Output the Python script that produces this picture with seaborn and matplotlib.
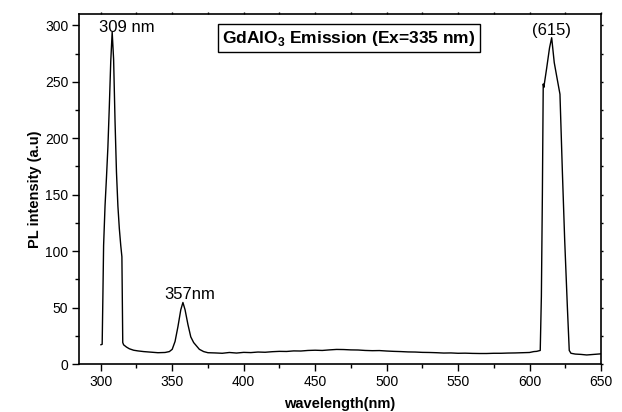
import matplotlib
matplotlib.use("Agg")
import matplotlib.pyplot as plt
import seaborn as sns
import pandas as pd
from matplotlib.ticker import MultipleLocator

# Emission spectrum
wavelength = [300, 301, 301.5, 302, 303, 304, 305, 306, 307, 308, 309, 310, 311,
              312, 313, 314, 314.8, 315.4, 316, 318, 320, 323, 326, 330, 335, 340,
              345, 348, 350, 352, 354, 356, 357.5, 359, 361, 363, 365, 367, 369,
              372, 375, 380, 385, 390, 395, 400, 405, 410, 415, 420, 425, 430, 435,
              440, 445, 450, 455, 460, 465, 470, 475, 480, 485, 490, 495, 500, 505,
              510, 515, 520, 525, 530, 535, 540, 545, 550, 555, 560, 565, 570, 575,
              580, 585, 590, 595, 600, 603, 605, 607.5, 608.3, 609, 609.6, 610, 612,
              614, 615.5, 617.3, 619, 621.3, 623, 624.6, 626.5, 627.8, 629, 632,
              636, 640, 645, 650]
intensity = [17, 17.5, 60, 105, 140, 165, 192, 228, 268, 294, 270, 215, 170,
             140, 120, 105, 95, 19, 17, 15, 13.5, 12.2, 11.6, 11, 10.5, 10,
             10.2, 11, 13, 20, 33, 48, 54.5, 48, 35, 24, 19, 16, 13,
             11, 10, 9.8, 9.5, 10.2, 9.7, 10.3, 10.1, 10.6, 10.4, 10.9, 11.2, 11.1, 11.6,
             11.5, 12.0, 12.2, 12.0, 12.5, 12.9, 12.8, 12.5, 12.4, 12.0, 11.8, 11.9, 11.5, 11.2,
             11.0, 10.7, 10.6, 10.3, 10.2, 10.0, 9.7, 9.8, 9.5, 9.6, 9.4, 9.3, 9.3, 9.5,
             9.5, 9.7, 9.8, 10.0, 10.2, 11.0, 11.2, 12, 60, 150, 248, 245, 262,
             280, 289, 267, 255, 239, 170, 110, 50, 12, 9.5, 8.8,
             8.5, 8.0, 8.5, 9.0]

x_ticks = [300, 350, 400, 450, 500, 550, 600, 650]
y_ticks = [0, 50, 100, 150, 200, 250, 300]

peak_labels = ["309 nm", "357nm", "(615)"]
peak_x = [318, 362.3, 615.5]
peak_y = [298, 61.5, 295]

sns.set_style("ticks")
plt.rcParams["font.family"] = ["Liberation Sans", "DejaVu Sans"]
plt.rcParams["mathtext.fontset"] = "custom"
plt.rcParams["mathtext.rm"] = "Liberation Sans"
plt.rcParams["mathtext.bf"] = "Liberation Sans:bold"
plt.rcParams["text.color"] = "black"
plt.rcParams["axes.labelcolor"] = "black"
plt.rcParams["xtick.color"] = "black"
plt.rcParams["ytick.color"] = "black"

df = pd.DataFrame({"wavelength": wavelength, "intensity": intensity})

fig = plt.figure(figsize=(6.22, 4.12), dpi=100)
ax = fig.add_axes([0.1275, 0.1165, 0.8387, 0.8495])

sns.lineplot(data=df, x="wavelength", y="intensity", ax=ax, color="black",
             linewidth=1.0, sort=False)

ax.set_xlim(285, 650)
ax.set_ylim(0, 310)
ax.set_xticks(x_ticks)
ax.set_yticks(y_ticks)
ax.xaxis.set_minor_locator(MultipleLocator(25))
ax.yaxis.set_minor_locator(MultipleLocator(25))
ax.tick_params(axis="both", which="major", direction="out", length=5, width=1,
               labelsize=10, colors="black", pad=3)
ax.tick_params(axis="both", which="minor", direction="out", length=3, width=1)
ax.tick_params(top=True, right=True, which="both")
for t in ax.xaxis.get_ticklines(minor=False)[1::2] + ax.xaxis.get_ticklines(minor=True)[1::2]:
    t.set_markersize(1.5)
for t in ax.yaxis.get_ticklines(minor=False)[1::2] + ax.yaxis.get_ticklines(minor=True)[1::2]:
    t.set_markersize(1.5)

for s in ax.spines.values():
    s.set_linewidth(1.2)
    s.set_color("black")

ax.set_xlabel("wavelength(nm)", fontsize=10.5, fontweight="bold", labelpad=6)
ax.set_ylabel("PL intensity (a.u)", fontsize=10.5, fontweight="bold", labelpad=2)

for lab, px, py in zip(peak_labels, peak_x, peak_y):
    ax.text(px, py, lab, fontsize=12, ha="center", va="center")

ax.text(0.5165, 0.931, r"GdAlO$_{\mathbf{3}}$ Emission (Ex=335 nm)",
        transform=ax.transAxes, fontsize=12.5, fontweight="bold",
        ha="center", va="center",
        bbox=dict(boxstyle="square,pad=0.25", facecolor="white",
                  edgecolor="black", linewidth=1.0))

fig.savefig("out.png", dpi=100)
